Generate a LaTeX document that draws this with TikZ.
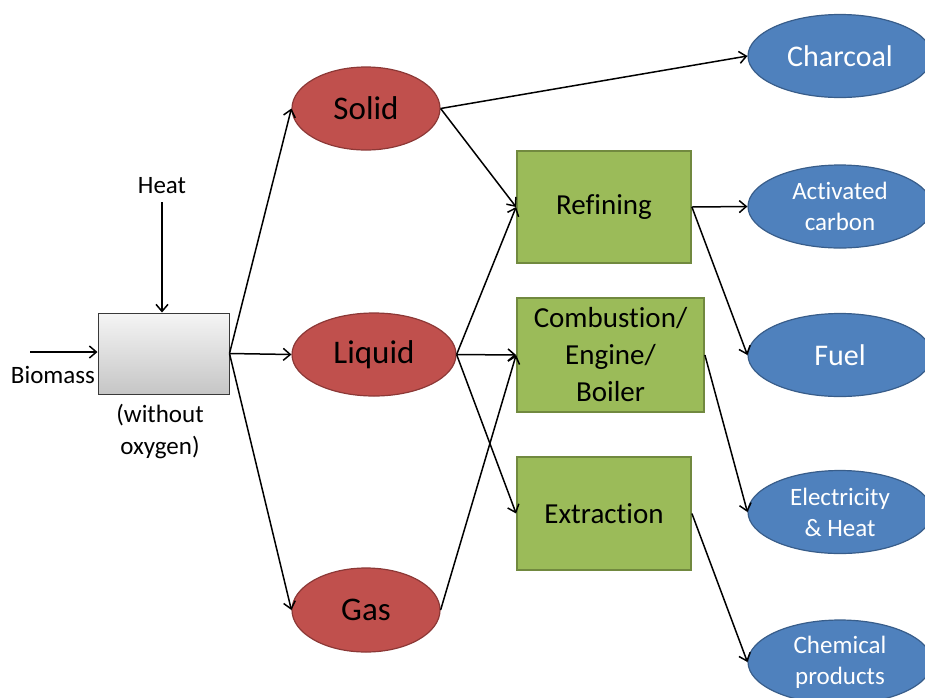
\documentclass[tikz,border=0pt]{standalone}
\usepackage{fontspec}
\setmainfont{Carlito}[RawFeature={-liga;-dlig;-calt;-clig}]
\usetikzlibrary{shapes.geometric,arrows.meta}
\definecolor{redfill}{HTML}{C0504D}
\definecolor{redline}{HTML}{8C3836}
\definecolor{greenfill}{HTML}{9BBB59}
\definecolor{greenline}{HTML}{71893F}
\definecolor{bluefill}{HTML}{4F81BD}
\definecolor{blueline}{HTML}{385D8A}
\begin{document}
\begin{tikzpicture}[x=1pt,y=-1pt,
  phase/.style={ellipse, fill=redfill, draw=redline, line width=1.2pt, inner sep=0pt, font=\fontsize{33}{36}\selectfont},
  proc/.style={rectangle, fill=greenfill, draw=greenline, line width=1.8pt, inner sep=0pt, align=center, font=\fontsize{29}{37}\selectfont},
  prod/.style={ellipse, fill=bluefill, draw=blueline, line width=1.2pt, inner sep=0pt, text=white, align=center, minimum width=184pt, minimum height=83pt},
  prodbig/.style={font=\fontsize{30}{34}\selectfont},
  prodsmall/.style={font=\fontsize{25}{31}\selectfont},
  flow/.style={draw=black, line width=1.5pt, -{Straight Barb[length=7pt,width=12pt]}},
  lbl/.style={font=\fontsize{25}{32}\selectfont, align=center, inner sep=0pt}]
\useasboundingbox (0,0) rectangle (925,697);
\clip (0,0) rectangle (925,697);

% reactor
\node[rectangle, minimum width=131pt, minimum height=81pt, inner sep=0pt, top color=gray!8, bottom color=gray!45, draw=gray!45!black, line width=1pt] (reactor) at (163.5,353.5) {};
\node[lbl] (heat) at (162,186) {Heat};
\node[lbl] (biomass) at (53,375) {Biomass};
\node[lbl] (noox) at (160,431) {(without\\oxygen)};
\coordinate (bin) at (30,352);

% phases
\node[phase, minimum width=148pt, minimum height=83pt] (solid) at (366,108.5) {Solid};
\node[phase, minimum width=164pt, minimum height=83pt] (liquid) at (374,354.5) {Liquid};
\node[phase, minimum width=148pt, minimum height=84pt] (gas) at (366,610) {Gas};

% processes
\node[proc, minimum width=174pt, minimum height=112pt] (refining) at (604,207) {Refining};
\node[proc, minimum width=187pt, minimum height=114pt] (combustion) at (610.5,355) {Combustion/\\Engine/\\Boiler};
\node[proc, minimum width=174pt, minimum height=113pt] (extraction) at (604,513.5) {Extraction};

% products
\node[prod, prodbig] (charcoal) at (840,56) {Charcoal};
\node[prod, prodsmall] (activated) at (840,206.5) {Activated\\carbon};
\node[prod, prodbig] (fuel) at (840,355) {Fuel};
\node[prod, prodsmall] (elec) at (840,512) {Electricity\\\& Heat};
\node[prod, prodsmall, minimum height=84pt] (chem) at (840,662) {Chemical\\products};

% connectors
\draw[flow] (bin) -- (reactor.west |- bin);
\draw[flow] (heat.south) ++(0,8) -- (reactor.north -| heat);
\draw[flow] (reactor.east) -- (solid.west);
\draw[flow] (reactor.east) -- (liquid.west);
\draw[flow] (reactor.east) -- (gas.west);
\draw[flow] (solid.east) -- (charcoal.west);
\draw[flow] (solid.east) -- (refining.west);
\draw[flow] (liquid.east) -- (refining.west);
\draw[flow] (liquid.east) -- (combustion.west);
\draw[flow] (liquid.east) -- (extraction.west);
\draw[flow] (gas.east) -- (combustion.west);
\draw[flow] (refining.east) -- (activated.west);
\draw[flow] (refining.east) -- (fuel.west);
\draw[flow] (combustion.east) -- (elec.west);
\draw[flow] (extraction.east) -- (chem.west);
\end{tikzpicture}
\end{document}
